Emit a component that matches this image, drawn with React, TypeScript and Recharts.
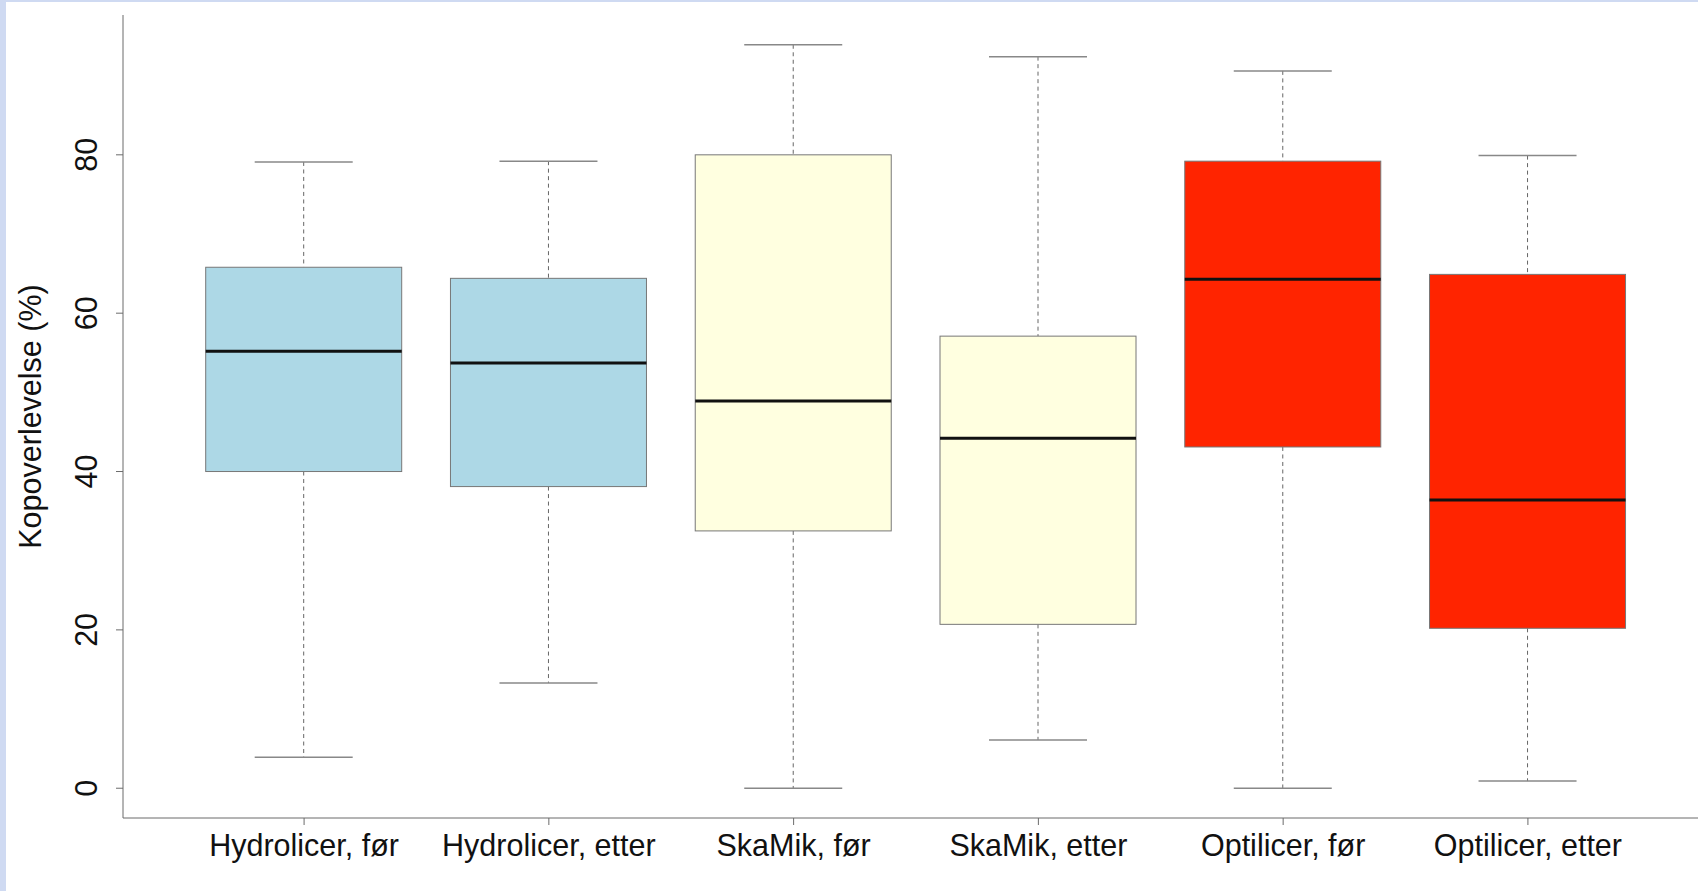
import { ComposedChart, Bar, XAxis, YAxis } from "recharts"

const categories = [
  "Hydrolicer, før",
  "Hydrolicer, etter",
  "SkaMik, før",
  "SkaMik, etter",
  "Optilicer, før",
  "Optilicer, etter",
]
const whiskerLow = [3.9, 13.3, 0, 6.1, 0, 0.9]
const quartile1 = [40.0, 38.1, 32.5, 20.7, 43.1, 20.2]
const medians = [55.2, 53.7, 48.9, 44.2, 64.3, 36.4]
const quartile3 = [65.8, 64.4, 80.0, 57.1, 79.2, 64.9]
const whiskerHigh = [79.1, 79.2, 93.9, 92.4, 90.6, 79.9]
const yTicks = [0, 20, 40, 60, 80]

const BOX_COLORS = ["#ADD8E6", "#ADD8E6", "#FFFFE0", "#FFFFE0", "#FF2400", "#FF2400"]
const AXIS_GRAY = "#6b6b6b"
const FONT = "'Liberation Sans', Arial, Helvetica, sans-serif"

const chartData = categories.map((name, i) => ({
  name,
  range: [whiskerLow[i], whiskerHigh[i]],
  q1: quartile1[i],
  median: medians[i],
  q3: quartile3[i],
  color: BOX_COLORS[i],
}))

// bar gets the whisker range; the rest of the box is placed on the same scale
// eslint-disable-next-line @typescript-eslint/no-explicit-any
function BoxShape(props: any) {
  const { x, y, width, height, payload } = props
  const [lo, hi] = payload.range
  const toY = (v: number) => y + (height * (hi - v)) / (hi - lo)
  const cx = x + width / 2
  const cap = width / 4
  return (
    <g>
      <line x1={cx} x2={cx} y1={toY(hi)} y2={toY(payload.q3)} stroke="#666" strokeDasharray="4 3.5" />
      <line x1={cx} x2={cx} y1={toY(payload.q1)} y2={toY(lo)} stroke="#666" strokeDasharray="4 3.5" />
      <line x1={cx - cap} x2={cx + cap} y1={toY(hi)} y2={toY(hi)} stroke="#888" strokeWidth={1.5} />
      <line x1={cx - cap} x2={cx + cap} y1={toY(lo)} y2={toY(lo)} stroke="#888" strokeWidth={1.5} />
      <rect
        x={x}
        y={toY(payload.q3)}
        width={width}
        height={toY(payload.q1) - toY(payload.q3)}
        fill={payload.color}
        stroke="#777"
        strokeWidth={1}
      />
      <line x1={x} x2={x + width} y1={toY(payload.median)} y2={toY(payload.median)} stroke="#111" strokeWidth={3} />
    </g>
  )
}

// eslint-disable-next-line @typescript-eslint/no-explicit-any
const XTick = ({ x, y, payload }: any) => (
  <text x={x} y={y + 29} textAnchor="middle" fontSize={30.5} fontFamily={FONT} fill="#111">
    {payload.value}
  </text>
)

// eslint-disable-next-line @typescript-eslint/no-explicit-any
const YTick = ({ x, y, payload }: any) => (
  <text
    x={x - 17}
    y={y}
    transform={`rotate(-90 ${x - 17} ${y})`}
    textAnchor="middle"
    fontSize={30.5}
    fontFamily={FONT}
    fill="#111"
  >
    {payload.value}
  </text>
)

// eslint-disable-next-line @typescript-eslint/no-explicit-any
const YLabel = ({ viewBox }: any) => {
  const cx = viewBox.x + 41
  const cy = viewBox.y + viewBox.height / 2
  return (
    <text x={cx} y={cy} transform={`rotate(-90 ${cx} ${cy})`} textAnchor="middle" fontSize={30.5} fontFamily={FONT} fill="#111">
      Kopoverlevelse (%)
    </text>
  )
}

export default function App() {
  return (
    <div
      style={{
        position: "fixed",
        left: 0,
        top: 0,
        width: 1698,
        height: 891,
        overflow: "hidden",
        background: "#fff",
      }}
    >
      <ComposedChart width={1720} height={891} data={chartData} margin={{ top: 15, right: 11, bottom: 0, left: 0 }}>
        <XAxis
          dataKey="name"
          height={73}
          padding={{ left: 58.7, right: 58.7 }}
          stroke={AXIS_GRAY}
          tickSize={7}
          tickMargin={2}
          tick={<XTick />}
          interval={0}
        />
        <XAxis
          xAxisId="top"
          dataKey="name"
          orientation="top"
          height={0}
          tick={false}
          tickLine={false}
          stroke={AXIS_GRAY}
        />
        <YAxis
          type="number"
          domain={[-3.76, 97.66]}
          ticks={yTicks}
          width={123}
          stroke={AXIS_GRAY}
          tickSize={7}
          tickMargin={2}
          tick={<YTick />}
          label={<YLabel />}
        />
        <Bar dataKey="range" barSize={196} shape={<BoxShape />} isAnimationActive={false} />
      </ComposedChart>
      <div style={{ position: "absolute", left: 0, top: 0, width: 6, height: 891, background: "#cfdaf2" }} />
      <div style={{ position: "absolute", left: 0, top: 0, width: 1698, height: 2, background: "#cfdaf2" }} />
    </div>
  )
}
